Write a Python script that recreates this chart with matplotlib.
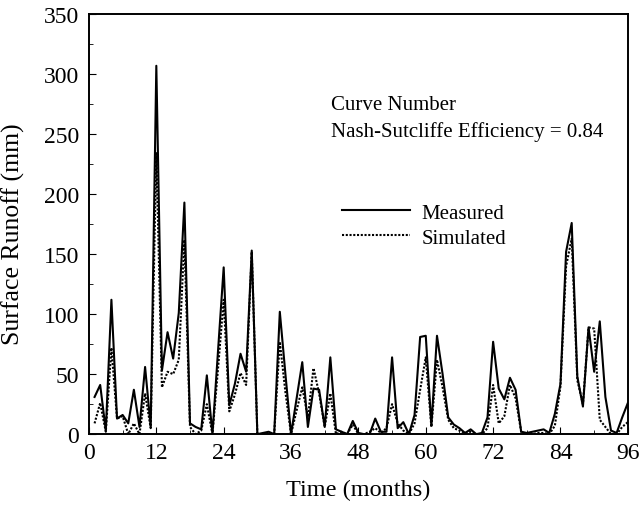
import matplotlib
matplotlib.use('Agg')
import matplotlib.pyplot as plt
from matplotlib.ticker import MultipleLocator

plt.rcParams['font.family'] = ['Liberation Serif', 'DejaVu Serif']

# monthly surface runoff (mm), months 1..96
months = list(range(1, 97))
measured = [31, 41, 3, 112, 13, 16, 9, 37, 6, 56, 6, 307,
            53, 85, 63, 101, 193, 9, 6, 4, 49, 0, 70, 139,
            24, 42, 67, 52, 153, 0, 1, 2, 0, 102, 50, 0,
            30, 60, 6, 38, 37, 6, 64, 4, 2, 0, 11, 1,
            0, 0, 13, 2, 2, 64, 5, 10, 0, 16, 81, 82,
            7, 82, 50, 14, 8, 5, 1, 4, 0, 1, 14, 77,
            38, 29, 47, 37, 2, 1, 2, 3, 4, 1, 17, 42,
            152, 176, 48, 23, 89, 52, 94, 31, 3, 1, 14, 26]
simulated = [9, 26, 2, 72, 13, 15, 0, 9, 0, 34, 5, 235,
             39, 52, 50, 62, 162, 6, 0, 3, 25, 0, 55, 112,
             19, 33, 51, 41, 152, 0, 0, 0, 0, 77, 35, 0,
             20, 39, 14, 55, 34, 6, 34, 0, 2, 0, 8, 0,
             0, 2, 5, 1, 5, 25, 9, 3, 0, 9, 37, 64,
             6, 62, 39, 12, 5, 3, 1, 2, 0, 0, 5, 41,
             9, 15, 41, 30, 2, 0, 0, 1, 1, 0, 7, 40,
             140, 163, 45, 25, 89, 88, 12, 6, 0, 0, 6, 10]

fig = plt.figure(figsize=(6.4, 5.06), dpi=100)
ax = fig.add_axes([0.139, 0.140, 0.842, 0.830])

ax.plot(months, measured, color='black', lw=1.5, label='Measured')
ax.plot(months, simulated, color='black', lw=1.5, dashes=(1, 0.8), label='Simulated')

ax.set_xlim(0, 96)
ax.set_ylim(0, 350)
ax.xaxis.set_major_locator(MultipleLocator(12))
ax.xaxis.set_minor_locator(MultipleLocator(6))
ax.yaxis.set_major_locator(MultipleLocator(50))
ax.yaxis.set_minor_locator(MultipleLocator(25))
ax.tick_params(which='both', direction='in', top=False, right=False, labelsize=17)
ax.tick_params(which='major', length=5)
ax.tick_params(which='minor', length=3)
ax.tick_params(axis='y', pad=7)
ax.tick_params(axis='x', pad=6)
for s in ax.spines.values():
    s.set_linewidth(1.4)

ax.set_xlabel('Time (months)', fontsize=17.5, labelpad=11)
ax.set_ylabel('Surface Runoff (mm)', fontsize=18.5)
ax.yaxis.set_label_coords(-0.118, 0.478)

ax.text(43.1, 275, 'Curve Number', fontsize=15, va='center')
ax.text(43.1, 252.5, 'Nash-Sutcliffe Efficiency = 0.84', fontsize=15, va='center')

ax.legend(loc='upper left', bbox_to_anchor=(0.469, 0.55), frameon=False,
          fontsize=15, handlelength=3.27, handletextpad=0.56, labelspacing=0.25,
          borderpad=0, borderaxespad=0)

fig.savefig('out.png', dpi=100)
